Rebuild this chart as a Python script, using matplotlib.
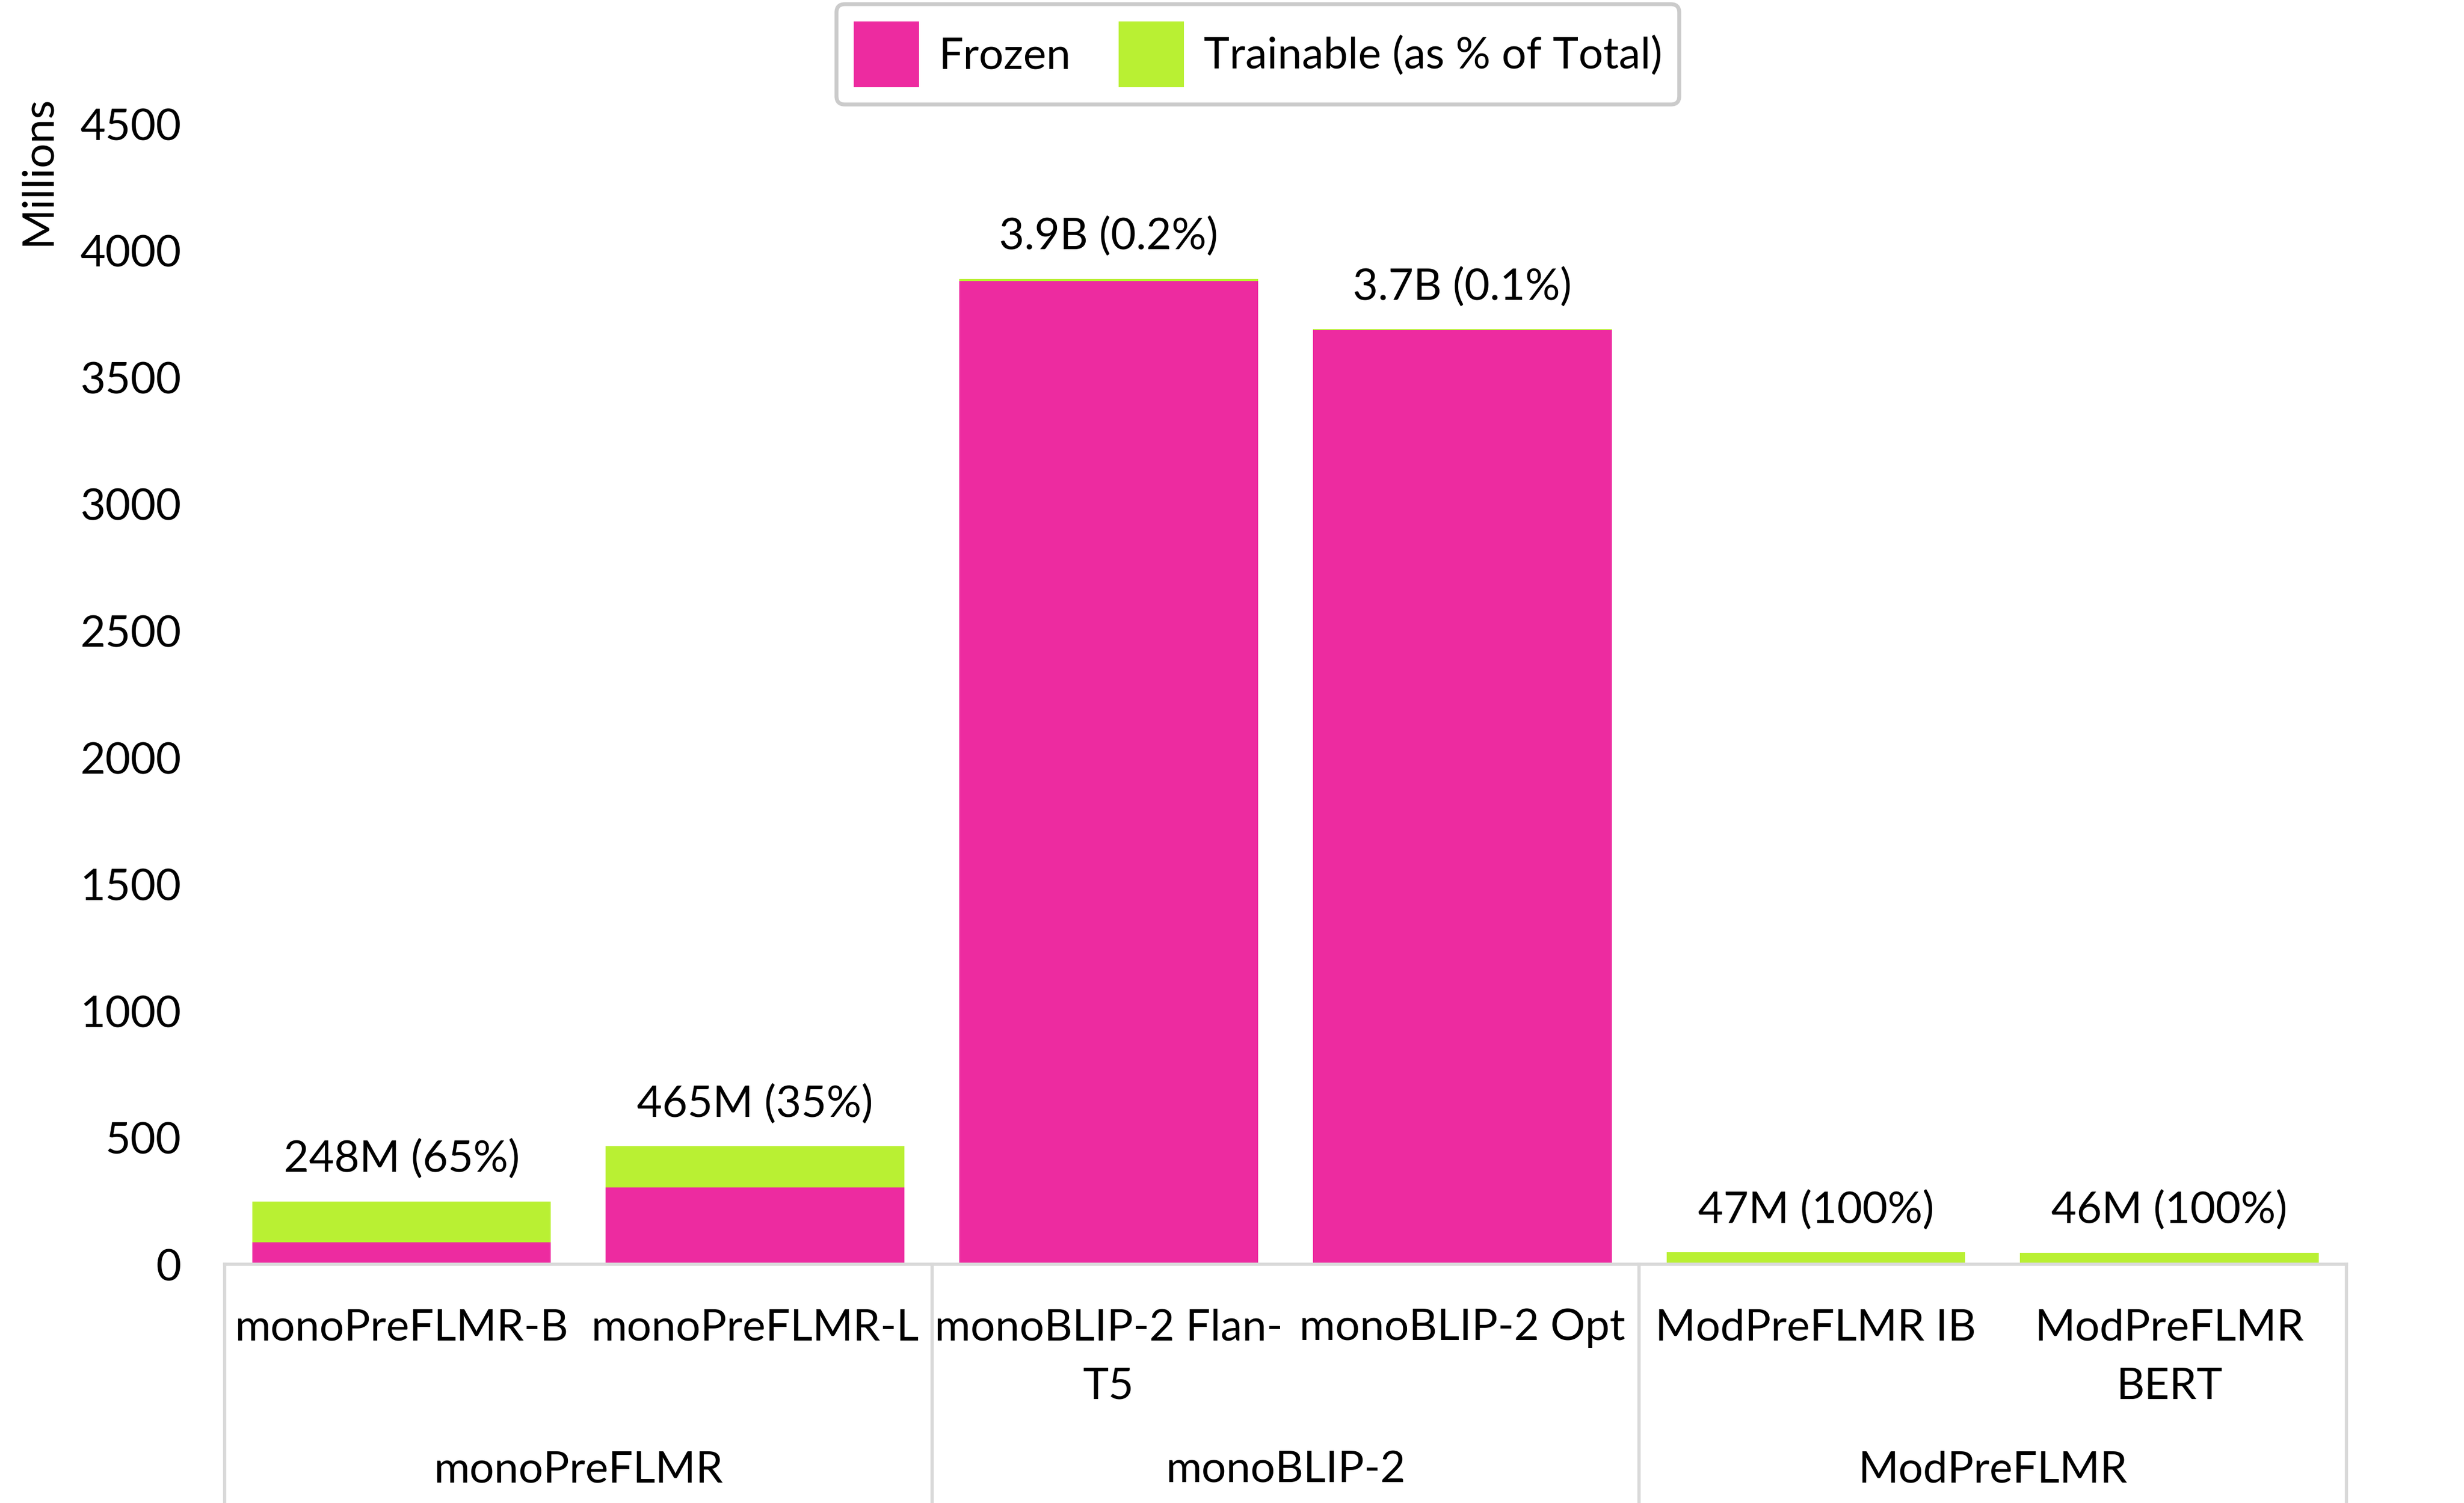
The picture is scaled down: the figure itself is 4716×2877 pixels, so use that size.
import numpy as np
import matplotlib.pyplot as plt

plt.rcParams['font.family'] = ['Lato', 'DejaVu Sans']

# data (millions of parameters)
models = ["monoPreFLMR-B", "monoPreFLMR-L", "monoBLIP-2 Flan-\nT5", "monoBLIP-2 Opt",
          "ModPreFLMR IB", "ModPreFLMR\nBERT"]
groups = ["monoPreFLMR", "monoBLIP-2", "ModPreFLMR"]
group_size = [2, 2, 2]
frozen = [87, 302, 3880, 3685, 0, 0]
trainable = [161, 163, 8, 4, 47, 46]
bar_labels = ["248M (65%)", "465M (35%)", "3.9B (0.2%)", "3.7B (0.1%)", "47M (100%)", "46M (100%)"]

pink = "#ED2BA0"
green = "#B9F033"
grey = "#D9D9D9"
fs = 20

fig = plt.figure(figsize=(15.72, 9.593), dpi=300)
ax = fig.add_axes([0.0912, 0.1588, 0.861, 0.7586])

x = np.arange(len(models))
ax.bar(x, frozen, width=0.845, color=pink, label="Frozen")
ax.bar(x, trainable, bottom=frozen, width=0.845, color=green, label="Trainable (as % of Total)")

totals = np.array(frozen) + np.array(trainable)
for xi, t, lab in zip(x, totals, bar_labels):
    ax.annotate(lab, (xi, t), xytext=(0, 10), textcoords="offset points",
                ha="center", va="bottom", fontsize=fs)

ax.set_xlim(-0.5, len(models) - 0.5)
ax.set_ylim(0, 4500)
ax.set_yticks(np.arange(0, 4501, 500))
ax.tick_params(axis="y", length=0, pad=20, labelsize=fs)
ax.set_xticks(x)
ax.set_xticklabels(models, fontsize=fs, linespacing=1.6)
ax.tick_params(axis="x", length=0, pad=20)

for s in ["top", "right", "left"]:
    ax.spines[s].set_visible(False)
ax.spines["bottom"].set_color(grey)
ax.spines["bottom"].set_linewidth(1.5)

# group boxes under the axis
trans = ax.get_xaxis_transform()
edges = np.concatenate([[0], np.cumsum(group_size)]) - 0.5
for e in edges:
    ax.plot([e, e], [0, -0.215], color=grey, lw=1.5, transform=trans, clip_on=False)
for g, a, b in zip(groups, edges[:-1], edges[1:]):
    ax.text((a + b) / 2, -0.1804, g, transform=trans, ha="center", va="center", fontsize=fs)

fig.text(0.0155, 0.8864, "Millions", rotation=90, ha="center", va="center", fontsize=fs)

leg = ax.legend(loc="upper center", bbox_to_anchor=(0.5105, 0.997), bbox_transform=fig.transFigure,
                ncol=2, fontsize=fs, frameon=True, fancybox=True, handlelength=1.5, handleheight=1.95,
                handletextpad=0.45, columnspacing=1.1, borderpad=0.4, borderaxespad=0)
leg.get_frame().set_edgecolor("#BFBFBF")
leg.get_frame().set_linewidth(1.8)

fig.savefig("out.png", dpi=300)
